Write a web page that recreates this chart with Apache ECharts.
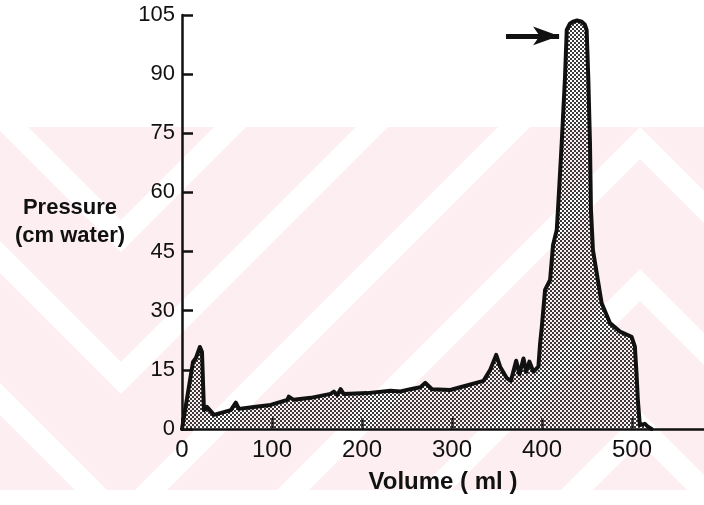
<!DOCTYPE html>
<html><head><meta charset="utf-8">
<script src="https://cdn.jsdelivr.net/npm/echarts@6/dist/echarts.min.js"></script>
<style>html,body{margin:0;padding:0;background:#fff}#c{width:704px;height:505px}</style>
</head><body><div id="c"></div>
<script>
// ---- data ----
const volume = [0,12.2,15.5,19.9,22.2,24.4,27.7,35.5,54.3,59.8,63.2,79.8,98.6,117.1,118.6,124.1,143.0,165.1,168.8,172.6,176.2,179.5,205.8,231.6,242.7,253.8,264.9,270.4,277.8,298.1,309.2,335.0,342.5,349.1,353.5,360.9,365.4,371.3,374.9,379.4,382.4,386.0,390.4,396.0,397.9,399.8,403.4,409.0,412.3,416.4,418.1,421.9,425.6,427.5,431.0,434.4,439.0,444.1,447.5,449.6,451.4,453.3,454.4,456.6,466.3,475.5,486.6,499.5,503.2,505.0,506.5,508.7,514.3,517.6,521.7];
const pressure = [0,17.0,18.0,20.8,19.5,4.8,5.6,3.6,4.8,6.7,5.1,5.6,6.1,7.4,8.2,7.4,7.9,8.9,9.5,8.6,10.1,8.9,9.1,9.7,9.5,10.1,10.6,11.7,10.1,9.9,10.6,12.2,15.0,18.8,15.8,12.9,12.2,17.3,13.9,17.9,14.5,17.1,14.5,15.8,21.7,25.9,35.3,37.8,46.7,50.5,57.0,72.5,89.3,101.2,102.8,103.3,103.6,103.3,102.6,101.2,89.3,72.5,55.5,45.4,31.9,26.9,24.7,23.4,20.9,14.2,7.4,1.0,1.3,0.6,0];
const xTicks = [0,100,200,300,400,500];
const yTicks = [0,15,30,45,60,75,90,105];
const arrowFrom = [360, 99.7];
const arrowTo = [419, 99.7];

// ---- dotted halftone fill ----
const pc = document.createElement('canvas');
pc.width = 4; pc.height = 4;
const pctx = pc.getContext('2d');
pctx.fillStyle = '#3a3a3a';
pctx.fillRect(0,0,2,2);
pctx.fillRect(2,2,2,2);

// ---- faint watermark stripes (decoration) ----
function clip(poly, x0, y0, x1, y1){
  const edges = [
    p => p[0] >= x0, p => p[0] <= x1, p => p[1] >= y0, p => p[1] <= y1
  ];
  const inter = [
    (a,b) => { const t=(x0-a[0])/(b[0]-a[0]); return [x0, a[1]+t*(b[1]-a[1])]; },
    (a,b) => { const t=(x1-a[0])/(b[0]-a[0]); return [x1, a[1]+t*(b[1]-a[1])]; },
    (a,b) => { const t=(y0-a[1])/(b[1]-a[1]); return [a[0]+t*(b[0]-a[0]), y0]; },
    (a,b) => { const t=(y1-a[1])/(b[1]-a[1]); return [a[0]+t*(b[0]-a[0]), y1]; }
  ];
  let out = poly;
  for (let e=0;e<4;e++){
    const inp = out; out = [];
    for (let i=0;i<inp.length;i++){
      const cur = inp[i], prev = inp[(i+inp.length-1)%inp.length];
      const ci = edges[e](cur), pi = edges[e](prev);
      if (ci){ if(!pi) out.push(inter[e](prev,cur)); out.push(cur); }
      else if (pi) out.push(inter[e](prev,cur));
    }
    if (!out.length) break;
  }
  return out;
}
const wmTop = 127, wmBot = 490;
const graphics = [{type:'rect', shape:{x:0,y:wmTop,width:704,height:wmBot-wmTop}, style:{fill:'#fdeff1'}, z:-10, silent:true}];
for (let k=-4;k<=7;k++){
  const c = 341 + 142*k;
  const strip = [[c+1000,-1000],[c+32+1000,-1000],[c+32-2000,2000],[c-2000,2000]];
  const regions = [[121,640,null],[0,121,242],[640,704,1280]];
  regions.forEach(r=>{
    const s = r[2]===null ? strip : strip.map(p=>[r[2]-p[0],p[1]]);
    const poly = clip(s, r[0], wmTop, r[1], wmBot);
    if (poly.length>2) graphics.push({type:'polygon', shape:{points:poly}, style:{fill:'#ffffff'}, z:-9, silent:true});
  });
}

const font = 'Liberation Sans';
const chart = echarts.init(document.getElementById('c'), null, {renderer:'canvas'});
chart.setOption({
  animation:false,
  backgroundColor:'#ffffff',
  graphic: graphics,
  grid:{left:182, right:0, top:15, bottom:76, containLabel:false},
  xAxis:{
    type:'value', min:0, max:580, interval:100,
    name:'Volume ( ml )', nameLocation:'middle', nameGap:41,
    nameTextStyle:{fontFamily:font, fontSize:24, fontWeight:'bold', color:'#111'},
    axisLine:{show:true, lineStyle:{color:'#111', width:2.5}},
    axisTick:{show:true, inside:true, length:11, customValues:xTicks, lineStyle:{color:'#111', width:2.5}},
    axisLabel:{customValues:xTicks, fontFamily:font, fontSize:24, color:'#111', margin:9},
    splitLine:{show:false}
  },
  yAxis:{
    type:'value', min:0, max:105, interval:15,
    name:'Pressure\n(cm water)', nameLocation:'middle', nameRotate:0, nameGap:112,
    nameTextStyle:{fontFamily:font, fontSize:22, fontWeight:'bold', color:'#111', align:'center', lineHeight:28},
    axisLine:{show:true, lineStyle:{color:'#111', width:2.5}},
    axisTick:{show:true, inside:true, length:11, customValues:yTicks, lineStyle:{color:'#111', width:2.5}},
    axisLabel:{customValues:yTicks, fontFamily:font, fontSize:22, color:'#111', margin:7},
    splitLine:{show:false}
  },
  series:[{
    type:'line',
    data: volume.map((v,i)=>[v, pressure[i]]),
    symbol:'none',
    lineStyle:{color:'#111', width:4, join:'round', cap:'round'},
    areaStyle:{color:{image:pc, repeat:'repeat'}, opacity:1},
    markLine:{
      silent:true, animation:false,
      symbol:['none','arrow'], symbolSize:[14,26],
      label:{show:false},
      lineStyle:{color:'#111', width:5, type:'solid'},
      data:[[{coord:arrowFrom},{coord:arrowTo}]]
    }
  }]
});
</script>
</body></html>
